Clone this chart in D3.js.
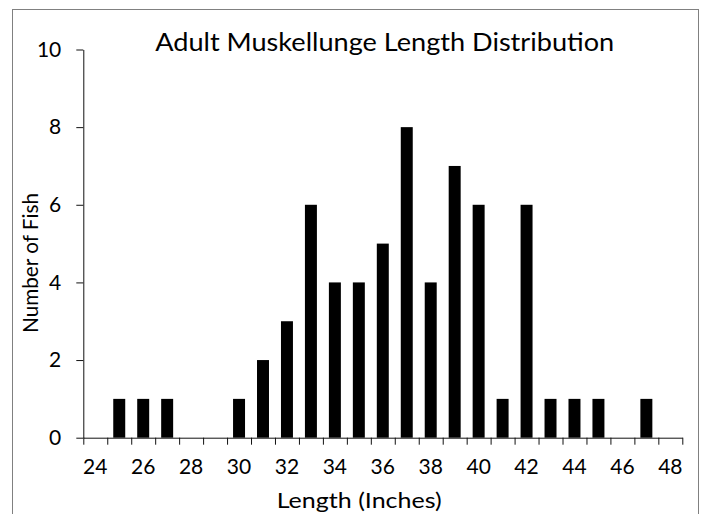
<!DOCTYPE html>
<html>
<head>
<meta charset="utf-8">
<script src="https://cdn.jsdelivr.net/npm/d3@7"></script>
<style>
  body { margin: 0; background: #fff; }
  svg { display: block; font-family: Lato, "Open Sans", sans-serif; }
</style>
</head>
<body>
<script>
// Data: fish counts per inch of length
var lengths = d3.range(24, 49);
var counts  = [0, 1, 1, 1, 0, 0, 1, 2, 3, 6, 4, 4, 5, 8, 4, 7, 6, 1, 6, 1, 1, 1, 0, 1, 0];
var yTicks  = [0, 2, 4, 6, 8, 10];
var xLabels = d3.range(24, 49, 2);

var W = 704, H = 514;
var mLeft = 83.3, mRight = 682.3, mTop = 49.5, mBottom = 437.7;

var svg = d3.select('body').append('svg').attr('width', W).attr('height', H);

// chart border
svg.append('rect')
  .attr('x', 12.5).attr('y', 9.5)
  .attr('width', 686).attr('height', 520)
  .attr('fill', 'none').attr('stroke', '#808080').attr('stroke-width', 1);

var x = d3.scaleBand().domain(lengths).range([mLeft, mRight])
  .paddingInner(0.5).paddingOuter(0.25);
var xEdge = d3.scaleLinear().domain([23.5, 48.5]).range([mLeft, mRight]);
var y = d3.scaleLinear().domain([0, 10]).range([mBottom, mTop]);

/***********************************************************************************/
// Bars
svg.append('g').selectAll('rect')
  .data(lengths.map(function(d, i){ return { len: d, n: counts[i] }; }).filter(function(d){ return d.n > 0; }))
  .enter().append('rect')
  .attr('x', function(d){ return x(d.len); })
  .attr('width', x.bandwidth())
  .attr('y', function(d){ return y(d.n); })
  .attr('height', function(d){ return y(0) - y(d.n); })
  .attr('fill', '#000');

/***********************************************************************************/
// Axes
var yAxis = svg.append('g').attr('transform', 'translate(' + mLeft + ',0)')
  .call(d3.axisLeft(y).tickValues(yTicks).tickSize(7).tickSizeOuter(0).tickPadding(15));

var xTickG = svg.append('g').attr('transform', 'translate(0,' + mBottom + ')')
  .call(d3.axisBottom(xEdge).tickValues(d3.range(23.5, 49, 1)).tickSize(7).tickSizeOuter(0).tickFormat(''));

var xLab = svg.append('g').attr('transform', 'translate(0,' + mBottom + ')')
  .call(d3.axisBottom(x).tickValues(xLabels).tickSize(0).tickPadding(21));
xLab.select('.domain').remove();

[yAxis, xTickG].forEach(function(g){
  g.selectAll('.domain, line').attr('stroke', '#111').attr('stroke-width', 1);
});
svg.selectAll('.tick text').attr('font-family', 'Lato, "Open Sans", sans-serif').attr('font-size', 21).attr('fill', '#000');

/***********************************************************************************/
// Titles
svg.append('text').attr('x', 384.7).attr('y', 51).attr('text-anchor', 'middle')
  .attr('font-size', 25.5).attr('textLength', 459).attr('lengthAdjust', 'spacingAndGlyphs')
  .text('Adult Muskellunge Length Distribution');

svg.append('text').attr('x', 359.2).attr('y', 508).attr('text-anchor', 'middle')
  .attr('font-size', 21.5).attr('textLength', 165).attr('lengthAdjust', 'spacingAndGlyphs')
  .text('Length (Inches)');

svg.append('text').attr('transform', 'translate(37.5,263) rotate(-90)').attr('text-anchor', 'middle')
  .attr('font-size', 21.5).attr('textLength', 140).attr('lengthAdjust', 'spacingAndGlyphs')
  .text('Number of Fish');
</script>
</body>
</html>
